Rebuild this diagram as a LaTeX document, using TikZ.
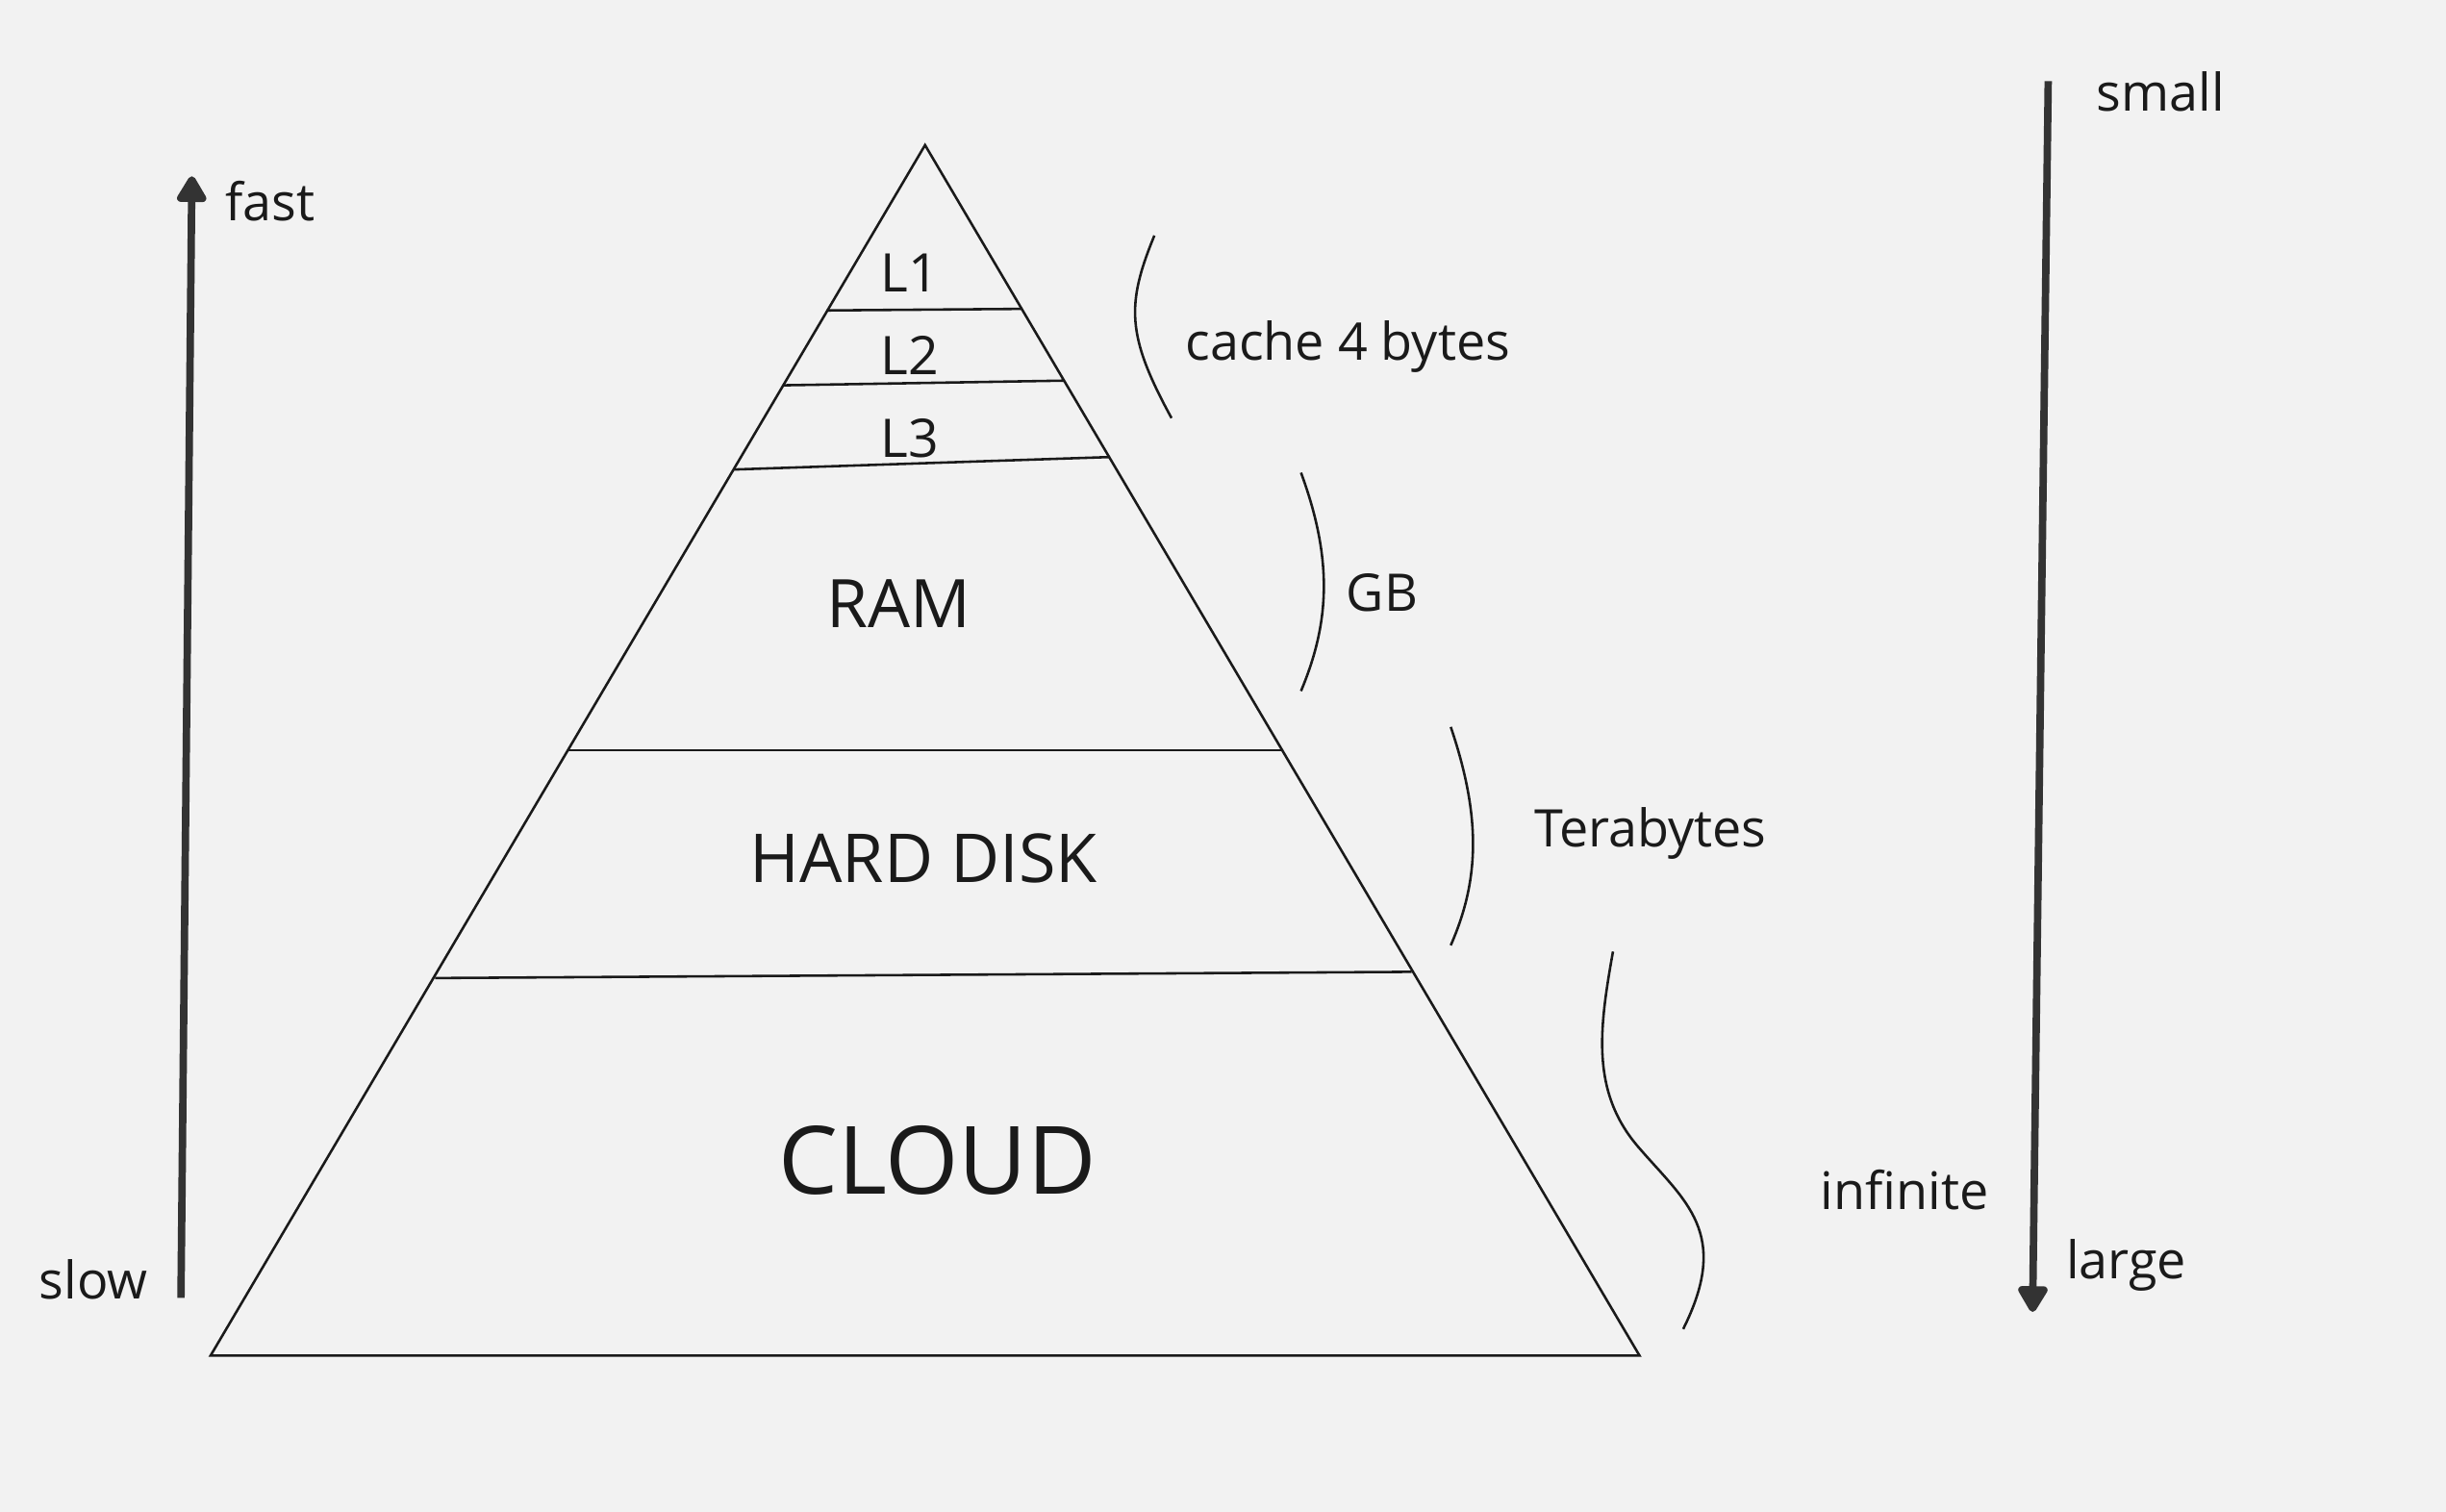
\documentclass[tikz,border=0pt]{standalone}
\usepackage{fontspec}
\setmainfont{Open Sans}
\usetikzlibrary{arrows.meta}
\definecolor{bg}{HTML}{F2F2F2}
\definecolor{ink}{HTML}{1A1A1A}
\definecolor{arr}{HTML}{333333}
\tikzset{
  thinline/.style={draw=ink, line width=0.45pt},
  bigarrow/.style={draw=arr, line width=1.35pt, -{Triangle[width=0.21cm,length=0.19cm,round]}},
  lbl/.style={text=ink, font=\fontsize{9.45}{11}\selectfont, inner sep=0pt},
  tier/.style={text=ink, inner sep=0pt},
}
\begin{document}
\begin{tikzpicture}[x=0.01cm,y=-0.01cm]
\fill[bg] (0,0) rectangle (1568,969);
\useasboundingbox (0,0) rectangle (1568,969);
% pyramid
\coordinate (apex) at (593,93);
\coordinate (bl) at (135,869);
\coordinate (br) at (1051,869);
\draw[thinline, line join=miter] (apex) -- (br) -- (bl) -- cycle;
\coordinate (a1) at (530,199); \coordinate (b1) at (655,198);
\coordinate (a2) at (502,247); \coordinate (b2) at (682,244);
\coordinate (a3) at (470,301); \coordinate (b3) at (711,293);
\coordinate (a4) at (364,481); \coordinate (b4) at (822,481);
\coordinate (a5) at (279,627); \coordinate (b5) at (905,623);
\draw[thinline] (a1) -- (b1);
\draw[thinline] (a2) -- (b2);
\draw[thinline] (a3) -- (b3);
\draw[thinline] (a4) -- (b4);
\draw[thinline] (a5) -- (b5);
% tier labels
\node[tier, font=\fontsize{9.7}{11}\selectfont] (l1) at (583,175) {L1};
\node[tier, font=\fontsize{9.7}{11}\selectfont] (l2) at (583,228) {L2};
\node[tier, font=\fontsize{9.7}{11}\selectfont] (l3) at (583,281) {L3};
\node[tier, font=\fontsize{12.2}{14}\selectfont] (ram) at (576,387) {RAM};
\node[tier, font=\fontsize{12.3}{14}\selectfont] (hd) at (592,550) {HARD DISK};
\node[tier, font=\fontsize{17.2}{19}\selectfont] (cloud) at (601,744) {CLOUD};
% braces
\draw[thinline] (740,151) .. controls (722,195) and (722,215) .. (751,268);
\draw[thinline] (834,303) .. controls (855,360) and (852,400) .. (834,443);
\draw[thinline] (930,466) .. controls (950,525) and (948,565) .. (930,606);
\draw[thinline] (1034,610) .. controls (1025,660) and (1020,700) .. (1050,735)
  .. controls (1080,770) and (1110,790) .. (1079,852);
% size labels
\node[lbl] (cache) at (864,222) {cache 4 bytes};
\node[lbl] (gb) at (886,380) {GB};
\node[lbl] (tb) at (1058,534) {Terabytes};
\node[lbl] (inf) at (1221,763) {infinite};
% speed arrow
\coordinate (slowend) at (116,832);
\coordinate (fastend) at (123,113);
\draw[bigarrow] (slowend) -- (fastend);
\node[lbl] (fast) at (173,129) {fast};
\node[lbl] (slow) at (60,820) {slow};
% size arrow
\coordinate (smallend) at (1313,52);
\coordinate (largeend) at (1303,841);
\draw[bigarrow] (smallend) -- (largeend);
\node[lbl] (small) at (1385,59) {small};
\node[lbl] (large) at (1363,811) {large};
\end{tikzpicture}
\end{document}
